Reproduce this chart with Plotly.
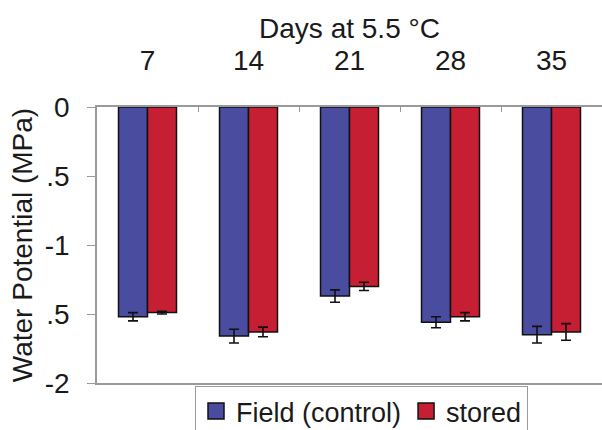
import plotly.graph_objects as go

days = ["7", "14", "21", "28", "35"]
field = [-1.52, -1.66, -1.37, -1.56, -1.65]
field_err = [0.03, 0.05, 0.045, 0.04, 0.06]
stored = [-1.49, -1.63, -1.30, -1.52, -1.63]
stored_err = [0.01, 0.035, 0.03, 0.03, 0.06]
y_tickvals = [0, -0.5, -1, -1.5, -2]
y_ticktext = ["0", ".5", "-1", ".5", "-2"]
series_names = ["Field (control)", "stored"]
series_colors = ["#4a4ca0", "#c61f33"]

FONT = "Liberation Sans, Arial, sans-serif"
AXIS_GRAY = "#9a9a9a"
FS = 28

fig = go.Figure()
for name, vals, errs, col in zip(series_names, [field, stored],
                                 [field_err, stored_err], series_colors):
    fig.add_trace(go.Bar(
        x=days, y=vals, name=name, showlegend=False,
        marker=dict(color=col, line=dict(color="#111111", width=1.5)),
        error_y=dict(type="data", array=errs, symmetric=True,
                     color="#111111", thickness=1.6, width=5),
    ))
# legend entries with larger square swatches
for name, col in zip(series_names, series_colors):
    fig.add_trace(go.Scatter(
        x=[None], y=[None], mode="markers", name=name,
        marker=dict(symbol="square", size=16, color=col,
                    line=dict(color="#111111", width=1.5)),
    ))

fig.update_layout(
    width=602, height=430,
    margin=dict(l=97, r=0, t=107, b=47, autoexpand=False),
    paper_bgcolor="white", plot_bgcolor="white",
    barmode="group", bargap=0.426, bargroupgap=0,
    font=dict(family=FONT, size=FS, color="#1a1a1a"),
    showlegend=True,
    legend=dict(
        orientation="h", xref="container", yref="container",
        x=195 / 602, xanchor="left", y=1 - 386 / 430, yanchor="top",
        bordercolor=AXIS_GRAY, borderwidth=1, bgcolor="white",
        font=dict(size=27), itemwidth=30, itemsizing="trace",
    ),
    title=dict(text="Days at 5.5 °C", x=0.5, xref="paper", xanchor="center",
               y=1 - 28 / 430, yref="container", yanchor="middle",
               pad=dict(t=0, b=0), font=dict(size=FS)),
)

fig.update_xaxes(
    side="top", type="category", automargin=False,
    showline=True, linecolor=AXIS_GRAY, linewidth=1.5, mirror=True,
    ticks="inside", tickson="boundaries", ticklen=5, tickcolor=AXIS_GRAY,
    ticklabelstandoff=24, showgrid=False, zeroline=False,
)
fig.update_yaxes(
    range=[-2, 0], tickvals=y_tickvals, ticktext=y_ticktext, automargin=False,
    showline=True, linecolor=AXIS_GRAY, linewidth=1.5,
    ticks="outside", ticklen=8, tickcolor=AXIS_GRAY,
    ticklabelstandoff=12, showgrid=False, zeroline=False,
    title=dict(text="Water Potential (MPa)", standoff=4, font=dict(size=FS)),
)

fig.write_html(
    "out.html",
    config={"displayModeBar": False},
    post_script="document.body.style.margin='0';document.body.style.overflow='hidden';",
)
